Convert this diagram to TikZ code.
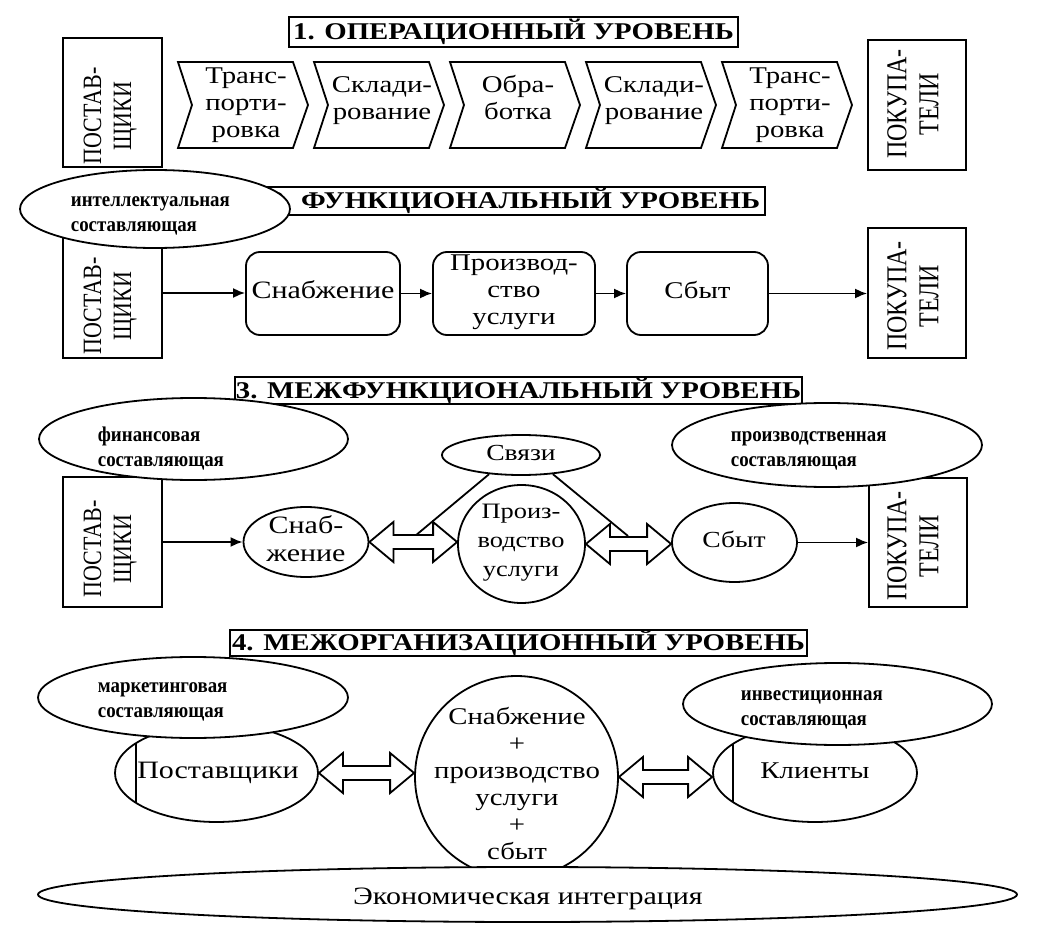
\documentclass[tikz,border=0pt]{standalone}
\usepackage{fontspec}
\setmainfont{Liberation Serif}
\usepackage{graphicx}
\usetikzlibrary{arrows.meta,shapes.geometric,calc}

\newcommand{\tb}[1]{\begin{tabular}{@{}c@{}}#1\end{tabular}}
\newcommand{\hs}[1]{\scalebox{1.2}[1]{\tb{#1}}}
\newcommand{\rt}[1]{\scalebox{1.2}[1]{\rotatebox{90}{\tb{#1}}}}
\newcommand{\lt}[1]{\scalebox{0.9}[1]{\begin{tabular}{@{}l@{}}#1\end{tabular}}}
\newcommand{\chev}[1]{\draw ({#1},62) -- ({#1+115},62) -- ({#1+130},105) -- ({#1+115},148) -- ({#1},148) -- ({#1+14},105) -- cycle;}
\newcommand{\dbl}[2]{\draw[dblar] let \p1=(#1), \p2=(#2) in
  (\x1,\y1) -- (\x1+12pt,\y1+10pt) -- (\x1+12pt,\y1+3.5pt) -- (\x2-12pt,\y1+3.5pt) -- (\x2-12pt,\y1+10pt) --
  (\x2,\y1) -- (\x2-12pt,\y1-10pt) -- (\x2-12pt,\y1-3.5pt) -- (\x1+12pt,\y1-3.5pt) -- (\x1+12pt,\y1-10pt) -- cycle;}

\begin{document}
\begin{tikzpicture}[x=0.5pt,y=-0.5pt, line width=0.9pt,
  box/.style={draw, rectangle, inner sep=0pt, fill=white},
  ell/.style={draw, ellipse, inner sep=0pt, fill=white},
  rbox/.style={draw, rectangle, rounded corners=7pt, inner sep=0pt},
  txt/.style={inner sep=0pt, font=\fontsize{12}{13.5}\selectfont},
  ttl/.style={draw, inner sep=0pt, fill=white, font=\bfseries\fontsize{12}{13.5}\selectfont},
  small/.style={inner sep=0pt, anchor=west, font=\bfseries\fontsize{10.5}{12.5}\selectfont},
  conn/.style={-{Latex[length=6pt,width=5pt]}},
  dblar/.style={draw, fill=white, line join=miter}
]
\useasboundingbox (0,0) rectangle (1040,931);
\fill[white] (0,0) rectangle (1040,931);

% ---------- 1 ----------
\node[ttl, minimum width=224.5pt, minimum height=15pt] (t1) at (513.5,32) {\scalebox{1.2}[1]{1. ОПЕРАЦИОННЫЙ УРОВЕНЬ}};
\node[box, minimum width=49.5pt, minimum height=64.5pt] (p1) at (112.5,102.5) {};
\node[txt, font=\fontsize{11}{12.5}\selectfont] (p1t) at (110,116) {\rt{ПОСТАВ-\\ЩИКИ}};
\chev{178}\chev{314}\chev{450}\chev{586}\chev{722}
\node[txt] (c1t) at (246,105) {\hs{Транс-\\порти-\\ровка}};
\node[txt] (c2t) at (382,101) {\hs{Склади-\\рование}};
\node[txt] (c3t) at (518,101) {\hs{Обра-\\ботка}};
\node[txt] (c4t) at (654,101) {\hs{Склади-\\рование}};
\node[txt] (c5t) at (790,105) {\hs{Транс-\\порти-\\ровка}};
\node[box, minimum width=49pt, minimum height=65pt] (k1) at (917,105) {};
\node[txt, font=\fontsize{12}{13.3}\selectfont] (k1t) at (916,104) {\rt{ПОКУПА-\\ТЕЛИ}};

% ---------- 2 ----------
\node[ttl, minimum width=250pt, minimum height=14pt] (t2) at (515,201) {\scalebox{1.2}[1]{2. ФУНКЦИОНАЛЬНЫЙ УРОВЕНЬ}};
\node[box, minimum width=49.5pt, minimum height=65pt] (p2) at (112.5,293) {};
\node[txt, font=\fontsize{11}{12.5}\selectfont] (p2t) at (110,306) {\rt{ПОСТАВ-\\ЩИКИ}};
\node[rbox, minimum width=77pt, minimum height=41.5pt] (sn2) at (323,293.5) {};
\node[txt, font=\fontsize{12.5}{14}\selectfont] (sn2t) at (323,293) {\hs{Снабжение}};
\node[rbox, minimum width=81pt, minimum height=41.5pt] (pr2) at (514,293.5) {};
\node[txt] (pr2t) at (514,292) {\hs{Производ-\\ство\\услуги}};
\node[rbox, minimum width=70.5pt, minimum height=41.5pt] (sb2) at (697.5,293.5) {};
\node[txt] (sb2t) at (697.5,293) {\hs{Сбыт}};
\node[box, minimum width=49pt, minimum height=65pt] (k2) at (917,293) {};
\node[txt, font=\fontsize{12}{13.3}\selectfont] (k2t) at (916,296) {\rt{ПОКУПА-\\ТЕЛИ}};
\draw[conn] (p2.east) -- (p2.east -| sn2.west);
\draw[conn] (sn2.east) -- (pr2.west);
\draw[conn] (pr2.east) -- (sb2.west);
\draw[conn] (sb2.east) -- (sb2.east -| k2.west);
\node[ell, minimum width=135pt, minimum height=39pt] (int) at (155,209) {};
\node[small] (intt) at (70,214) {\lt{интеллектуальная\\составляющая}};

% ---------- 3 ----------
\node[ttl, minimum width=283.5pt, minimum height=13.5pt] (t3) at (518.5,390.5) {\scalebox{1.2}[1]{3. МЕЖФУНКЦИОНАЛЬНЫЙ УРОВЕНЬ}};
\node[box, minimum width=49.5pt, minimum height=65pt] (p3) at (112.5,542) {};
\node[txt, font=\fontsize{11}{12.5}\selectfont] (p3t) at (110,549) {\rt{ПОСТАВ-\\ЩИКИ}};
\node[ell, minimum width=62.5pt, minimum height=35pt] (sn3) at (306,542) {};
\node[txt, font=\fontsize{12.5}{14}\selectfont] (sn3t) at (306,542) {\hs{Снаб-\\жение}};
\node[ell, minimum width=79pt, minimum height=20pt] (sv) at (521,455) {};
\node[txt, font=\fontsize{11.5}{13}\selectfont] (svt) at (521,455) {\hs{Связи}};
\node[ell, minimum width=63.5pt, minimum height=59pt] (pr3) at (521.5,544) {};
\node[txt, font=\fontsize{11}{14.5}\selectfont] (pr3t) at (521,542) {\hs{Произ-\\водство\\услуги}};
\node[ell, minimum width=62.5pt, minimum height=39.5pt] (sb3) at (734.5,542.5) {};
\node[txt, font=\fontsize{11.5}{13}\selectfont] (sb3t) at (734,542) {\hs{Сбыт}};
\node[box, minimum width=49pt, minimum height=64.5pt] (k3) at (918,542.5) {};
\node[txt, font=\fontsize{12}{13.3}\selectfont] (k3t) at (916,546) {\rt{ПОКУПА-\\ТЕЛИ}};
\draw[conn] (p3.east) -- (p3.east -| sn3.west);
\draw[conn] (sb3.east) -- (sb3.east -| k3.west);
\coordinate (l1) at (415,536);
\coordinate (l2) at (628,536);
\draw (sv.211) -- (l1);
\draw (sv.329) -- (l2);
\dbl{sn3.east}{pr3.west}
\dbl{pr3.east}{sb3.west}
\node[ell, minimum width=154.5pt, minimum height=41pt] (fin) at (193.5,439) {};
\node[small] (fint) at (97,449) {\lt{финансовая\\составляющая}};
\node[ell, minimum width=155pt, minimum height=42pt] (prd) at (827,445) {};
\node[small] (prdt) at (730,449) {\lt{производственная\\составляющая}};

% ---------- 4 ----------
\node[ttl, minimum width=288.5pt, minimum height=13pt] (t4) at (518.5,643) {\scalebox{1.2}[1]{4. МЕЖОРГАНИЗАЦИОННЫЙ УРОВЕНЬ}};
\node[ell, minimum width=101.5pt, minimum height=49pt] (ps4) at (216.5,773) {};
\draw (136,743) -- (136,803);
\node[txt, font=\fontsize{12.5}{14}\selectfont] (ps4t) at (218,773) {\hs{Поставщики}};
\node[ell, minimum width=155pt, minimum height=40.5pt] (mk) at (193,697.5) {};
\node[small] (mkt) at (97,700) {\lt{маркетинговая\\составляющая}};
\node[ell, minimum width=102pt, minimum height=49pt] (kl) at (815,773) {};
\draw (733,744) -- (733,802);
\node[txt] (klt) at (815,773) {\hs{Клиенты}};
\node[ell, minimum width=154.5pt, minimum height=41pt] (inv) at (837.5,704) {};
\node[small] (invt) at (740,708) {\lt{инвестиционная\\составляющая}};
\node[ell, minimum width=101.5pt, minimum height=101pt] (bc) at (516.5,777) {};
\node[txt] (bct) at (517,787) {\hs{Снабжение\\+\\производство\\услуги\\+\\сбыт}};
\dbl{ps4.east}{bc.west}
\dbl{bc.east}{kl.west}
\node[ell, minimum width=489.5pt, minimum height=27.5pt] (econ) at (527.5,894.5) {};
\node[txt, font=\fontsize{12.5}{14}\selectfont] (econt) at (528,899) {\hs{Экономическая интеграция}};
\end{tikzpicture}
\end{document}
